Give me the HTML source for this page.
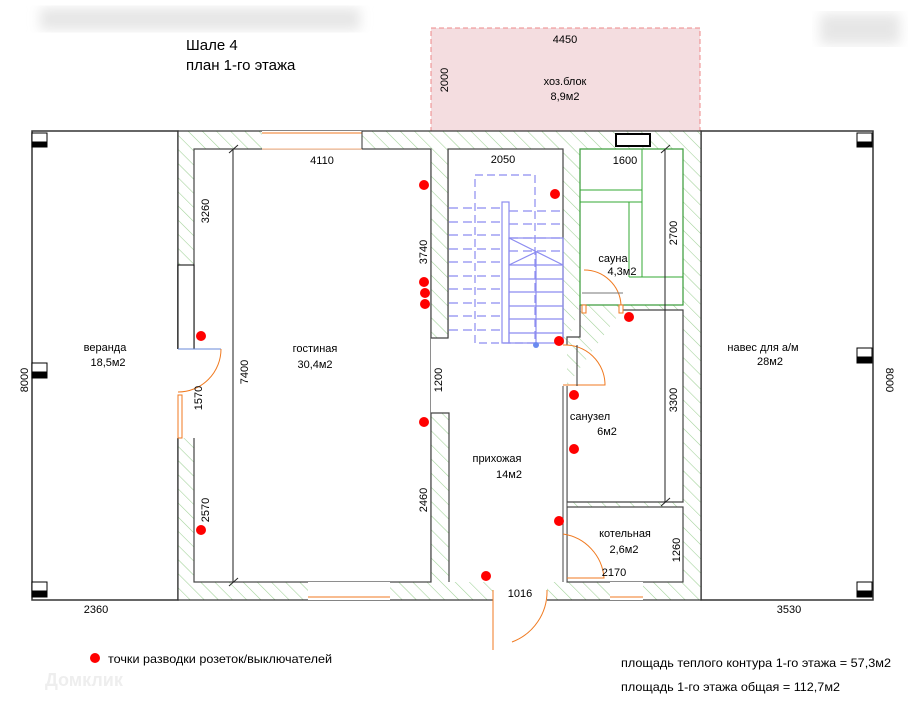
<!DOCTYPE html>
<html><head><meta charset="utf-8"><style>
html,body{margin:0;padding:0;background:#fff;}
svg{display:block;font-family:"Liberation Sans",sans-serif;}
</style></head><body>
<svg width="917" height="721" viewBox="0 0 917 721" xmlns="http://www.w3.org/2000/svg">
<defs>
<pattern id="h" patternUnits="userSpaceOnUse" width="10" height="10" patternTransform="rotate(-45)">
<rect width="10" height="10" fill="#fff"/>
<line x1="0" y1="0" x2="0" y2="10" stroke="#9fd196" stroke-width="1.1"/>
</pattern>
<filter id="b"><feGaussianBlur stdDeviation="6"/></filter>
</defs>
<rect width="917" height="721" fill="#fff"/>
<rect x="40" y="8" width="320" height="22" fill="#e6e6e6" filter="url(#b)"/>
<rect x="820" y="14" width="80" height="30" fill="#e6e6e6" filter="url(#b)"/>

<text x="186" y="50" font-size="15">Шале 4</text>
<text x="186" y="70" font-size="15">план 1-го этажа</text>

<rect x="431" y="28" width="269" height="103" fill="#f4dde0" stroke="#e88" stroke-width="1" stroke-dasharray="5,3"/>
<text x="565" y="43" font-size="11" text-anchor="middle">4450</text>
<text x="565" y="85" font-size="11" text-anchor="middle">хоз.блок</text>
<text x="565" y="100" font-size="11" text-anchor="middle">8,9м2</text>
<text transform="translate(448,80) rotate(-90)" font-size="11" text-anchor="middle">2000</text>

<rect x="32" y="131" width="146" height="469" fill="#fff" stroke="#333" stroke-width="1.5"/>
<rect x="701" y="131" width="172" height="469" fill="#fff" stroke="#333" stroke-width="1.5"/>
<g stroke="#000" stroke-width="1">
<rect x="32" y="133" width="15" height="14" fill="#fff"/><rect x="32" y="142" width="15" height="5" fill="#000"/>
<rect x="32" y="363" width="15" height="15" fill="#fff"/><rect x="32" y="372" width="15" height="6" fill="#000"/>
<rect x="32" y="582" width="15" height="15" fill="#fff"/><rect x="32" y="591" width="15" height="6" fill="#000"/>
<rect x="857" y="133" width="15" height="14" fill="#fff"/><rect x="857" y="142" width="15" height="5" fill="#000"/>
<rect x="857" y="348" width="15" height="15" fill="#fff"/><rect x="857" y="357" width="15" height="6" fill="#000"/>
<rect x="857" y="582" width="15" height="15" fill="#fff"/><rect x="857" y="591" width="15" height="6" fill="#000"/>
</g>

<rect x="178" y="131" width="523" height="469" fill="url(#h)" stroke="#333" stroke-width="1.2"/>
<g fill="#fff" stroke="#444" stroke-width="1.2">
<rect x="194" y="149" width="237" height="433"/>
<path d="M448,149 H563 V343 H567 V386 H563 V582 H448 V413 H431 V338 H448 Z" stroke="none"/>
<rect x="448" y="149" width="115" height="194" fill="none"/>
<rect x="580" y="149" width="103" height="156"/>
<path d="M580,305 V337 H567 V345 M567,386 V502 H683 V310 H622"/>
<rect x="567" y="507" width="116" height="75"/>
</g>
<rect x="432" y="338" width="131" height="75" fill="#fff"/>
<rect x="449" y="343" width="114" height="239" fill="#fff"/>
<rect x="563" y="386" width="4" height="196" fill="#fff"/>
<line x1="563" y1="386" x2="563" y2="582" stroke="#444"/>
<line x1="567" y1="386" x2="567" y2="582" stroke="#444"/>
<path d="M431,149 V338 H448 V149 M431,582 V413 H449 V582" fill="url(#h)" stroke="#444" stroke-width="1.2"/>
<rect x="432" y="339" width="16" height="73" fill="#fff"/>
<line x1="233" y1="149" x2="233" y2="582" stroke="#444" stroke-width="1.2"/>
<line x1="229" y1="153" x2="238" y2="145" stroke="#222"/>
<line x1="229" y1="586" x2="238" y2="578" stroke="#222"/>
<rect x="178" y="265" width="16" height="84" fill="#fff" stroke="#000"/>
<rect x="177" y="349" width="18" height="89" fill="#fff"/>
<line x1="178" y1="349" x2="221" y2="349" stroke="#6a8ad8"/>
<path d="M221,349 A43,43 0 0 1 178,392" fill="none" stroke="#f07a20"/>
<rect x="178" y="395" width="4" height="43" fill="#fff" stroke="#f07a20"/>
<rect x="262" y="131" width="100" height="18" fill="#fff"/>
<line x1="262" y1="133" x2="362" y2="133" stroke="#f07a20"/>
<line x1="262" y1="149" x2="362" y2="149" stroke="#f7b080"/>
<line x1="362" y1="131" x2="362" y2="149" stroke="#333"/>
<rect x="308" y="582" width="82" height="18" fill="#fff"/>
<line x1="308" y1="597" x2="390" y2="597" stroke="#f07a20"/>
<rect x="610" y="582" width="33" height="18" fill="#fff"/>
<line x1="610" y1="597" x2="643" y2="597" stroke="#f07a20"/>
<rect x="493" y="582" width="54" height="19" fill="#fff"/>
<line x1="493" y1="590" x2="493" y2="650" stroke="#f07a20"/>
<path d="M547,590 A54,54 0 0 1 512,642" fill="none" stroke="#f07a20"/>
<rect x="616" y="134" width="34" height="12" fill="#fff" stroke="#000" stroke-width="2"/>
<g stroke="#3a3" stroke-width="1" fill="none">
<rect x="580" y="149" width="103" height="156"/>
<line x1="642" y1="149" x2="642" y2="277"/>
<line x1="580" y1="190" x2="642" y2="190"/>
<line x1="580" y1="202" x2="642" y2="202"/>
<line x1="629" y1="202" x2="629" y2="277"/>
<line x1="629" y1="277" x2="683" y2="277"/>
</g>
<line x1="665" y1="149" x2="665" y2="502" stroke="#222"/>
<line x1="661" y1="153" x2="670" y2="145" stroke="#222"/>
<line x1="661" y1="506" x2="670" y2="498" stroke="#222"/>
<path d="M584,270 A37,37 0 0 1 621,305" fill="none" stroke="#f07a20"/>
<line x1="582" y1="293" x2="623" y2="293" stroke="#777"/>
<rect x="582" y="305" width="4" height="8" fill="#fff" stroke="#f07a20"/>
<rect x="619" y="305" width="4" height="8" fill="#fff" stroke="#f07a20"/>
<path d="M563,345 A40,40 0 0 1 605,385 H563" fill="none" stroke="#f07a20"/>
<line x1="577" y1="345" x2="577" y2="386" stroke="#333"/>
<path d="M563,534 A48,48 0 0 1 604,578 H567" fill="none" stroke="#f07a20"/>

<g stroke="#8c8cf0" stroke-width="1.2" fill="none">
<rect x="475" y="175" width="60" height="168" stroke-dasharray="8,4"/>
<g stroke-dasharray="9,5">
<line x1="449" y1="208" x2="502" y2="208"/><line x1="449" y1="222" x2="502" y2="222"/><line x1="449" y1="235" x2="502" y2="235"/><line x1="449" y1="249" x2="502" y2="249"/><line x1="449" y1="262" x2="502" y2="262"/><line x1="449" y1="276" x2="502" y2="276"/><line x1="449" y1="289" x2="502" y2="289"/><line x1="449" y1="303" x2="502" y2="303"/><line x1="449" y1="316" x2="502" y2="316"/><line x1="449" y1="330" x2="502" y2="330"/>
<line x1="509" y1="211" x2="563" y2="211"/><line x1="509" y1="224" x2="563" y2="224"/><line x1="509" y1="238" x2="563" y2="238"/><line x1="509" y1="251" x2="563" y2="251"/>
</g>
<rect x="502" y="202" width="7" height="141"/>
<rect x="509" y="238" width="54" height="105"/>
<line x1="509" y1="265" x2="563" y2="265"/><line x1="509" y1="279" x2="563" y2="279"/><line x1="509" y1="292" x2="563" y2="292"/><line x1="509" y1="306" x2="563" y2="306"/><line x1="509" y1="319" x2="563" y2="319"/><line x1="509" y1="333" x2="563" y2="333"/>
<line x1="536" y1="252" x2="536" y2="343"/>
<line x1="509" y1="238" x2="563" y2="265"/><line x1="509" y1="265" x2="536" y2="252"/>
</g>
<circle cx="536" cy="345" r="3" fill="#6a8af0"/>

<g fill="#f00">
<circle cx="424" cy="185" r="5"/><circle cx="424" cy="282" r="5"/><circle cx="425" cy="293" r="5"/><circle cx="425" cy="304" r="5"/>
<circle cx="555" cy="194" r="5"/><circle cx="629" cy="317" r="5"/><circle cx="559" cy="341" r="5"/>
<circle cx="574" cy="395" r="5"/><circle cx="574" cy="449" r="5"/><circle cx="559" cy="521" r="5"/>
<circle cx="424" cy="422" r="5"/><circle cx="486" cy="576" r="5"/>
<circle cx="201" cy="336" r="5"/><circle cx="201" cy="530" r="5"/>
<circle cx="95" cy="658" r="5"/>
</g>

<g font-size="11" text-anchor="middle">
<text x="322" y="164">4110</text>
<text x="503" y="163">2050</text>
<text x="625" y="164">1600</text>
<text x="613" y="262">сауна</text>
<text x="622" y="275">4,3м2</text>
<text x="105" y="351">веранда</text>
<text x="108" y="366">18,5м2</text>
<text x="315" y="352">гостиная</text>
<text x="315" y="368">30,4м2</text>
<text x="763" y="351">навес для а/м</text>
<text x="770" y="365">28м2</text>
<text x="590" y="420">санузел</text>
<text x="607" y="435">6м2</text>
<text x="497" y="462">прихожая</text>
<text x="509" y="478">14м2</text>
<text x="625" y="537">котельная</text>
<text x="624" y="553">2,6м2</text>
<text x="614" y="576">2170</text>
<text x="520" y="597">1016</text>
<text x="96" y="613">2360</text>
<text x="789" y="613">3530</text>
</g>
<g font-size="11" text-anchor="middle">
<text transform="translate(209,211) rotate(-90)">3260</text>
<text transform="translate(248,372) rotate(-90)">7400</text>
<text transform="translate(202,398) rotate(-90)">1570</text>
<text transform="translate(209,510) rotate(-90)">2570</text>
<text transform="translate(427,252) rotate(-90)">3740</text>
<text transform="translate(442,380) rotate(-90)">1200</text>
<text transform="translate(427,500) rotate(-90)">2460</text>
<text transform="translate(677,233) rotate(-90)">2700</text>
<text transform="translate(677,400) rotate(-90)">3300</text>
<text transform="translate(680,550) rotate(-90)">1260</text>
<text transform="translate(28,380) rotate(-90)">8000</text>
<text transform="translate(886,380) rotate(90)">8000</text>
</g>
<text x="108" y="663" font-size="12" textLength="224" lengthAdjust="spacingAndGlyphs">точки разводки розеток/выключателей</text>
<text x="621" y="667" font-size="12" textLength="270" lengthAdjust="spacingAndGlyphs">площадь теплого контура 1-го этажа =  57,3м2</text>
<text x="621" y="691" font-size="12" textLength="219" lengthAdjust="spacingAndGlyphs">площадь 1-го этажа общая = 112,7м2</text>
<text x="45" y="686" font-size="18" fill="#eee" font-weight="bold">Домклик</text>
</svg>
</body></html>
